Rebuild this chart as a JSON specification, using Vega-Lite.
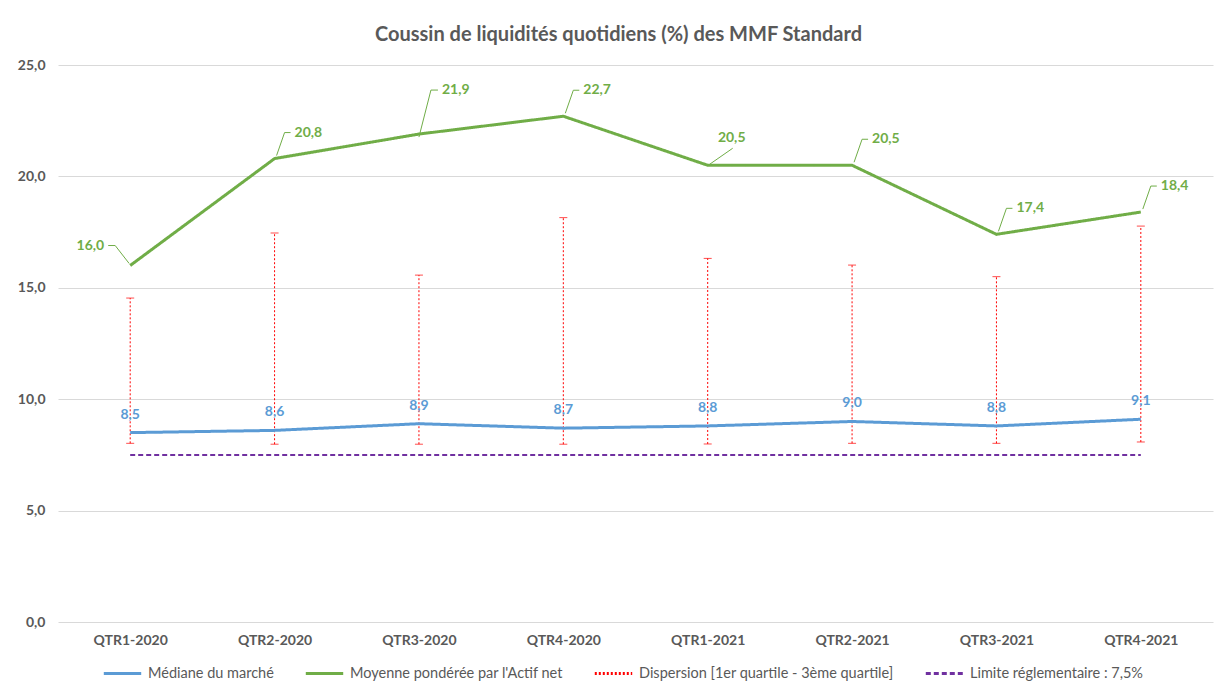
{
  "$schema": "https://vega.github.io/schema/vega-lite/v6.json",
  "width": 1155,
  "height": 557,
  "autosize": {"type": "none"},
  "padding": {"left": 58, "top": 65, "right": 6, "bottom": 66},
  "background": "white",
  "title": {
    "text": "Coussin de liquidités quotidiens (%) des MMF Standard",
    "font": "Lato", "fontSize": 20, "fontWeight": "bold", "color": "#595959",
    "anchor": "middle", "dx": -17, "offset": 13
  },
  "config": {
    "locale": {"number": {"decimal": ",", "thousands": " ", "grouping": [3], "currency": ["", " €"]}},
    "view": {"stroke": null},
    "font": "Lato",
    "axis": {"labelFont": "Lato", "labelFontSize": 14, "labelFontWeight": "bold", "labelColor": "#595959", "domain": false, "ticks": false, "title": null},
    "legend": {"labelFont": "Lato", "labelFontSize": 14.5, "labelColor": "#595959", "symbolType": "stroke", "symbolStrokeWidth": 3, "symbolSize": 1400, "labelLimit": 400, "orient": "none", "legendX": 44, "legendY": 588, "direction": "horizontal", "columnPadding": 25, "labelOffset": 5, "title": null}
  },
  "data": {"values": [
    {"trimestre": "QTR1-2020", "mediane": 8.5, "moyenne": 16.0, "q1": 8.02, "q3": 14.54, "limite": 7.5},
    {"trimestre": "QTR2-2020", "mediane": 8.6, "moyenne": 20.8, "q1": 7.98, "q3": 17.46, "limite": 7.5},
    {"trimestre": "QTR3-2020", "mediane": 8.9, "moyenne": 21.9, "q1": 7.98, "q3": 15.57, "limite": 7.5},
    {"trimestre": "QTR4-2020", "mediane": 8.7, "moyenne": 22.7, "q1": 7.98, "q3": 18.15, "limite": 7.5},
    {"trimestre": "QTR1-2021", "mediane": 8.8, "moyenne": 20.5, "q1": 7.99, "q3": 16.32, "limite": 7.5},
    {"trimestre": "QTR2-2021", "mediane": 9.0, "moyenne": 20.5, "q1": 8.02, "q3": 16.02, "limite": 7.5},
    {"trimestre": "QTR3-2021", "mediane": 8.8, "moyenne": 17.4, "q1": 8.02, "q3": 15.5, "limite": 7.5},
    {"trimestre": "QTR4-2021", "mediane": 9.1, "moyenne": 18.4, "q1": 8.08, "q3": 17.77, "limite": 7.5}
  ]},
  "encoding": {
    "x": {"field": "trimestre", "type": "nominal", "sort": null, "scale": {"type": "point", "padding": 0.5},
          "axis": {"labelAngle": 0, "labelPadding": 11, "grid": false}}
  },
  "layer": [
    {
      "mark": {"type": "rule", "strokeWidth": 1},
      "encoding": {
        "y": {"field": "q1", "type": "quantitative", "scale": {"domain": [0, 25], "nice": false},
              "axis": {"values": [0, 5, 10, 15, 20, 25], "format": ".1f", "grid": true, "gridColor": "#D9D9D9", "labelPadding": 13}},
        "y2": {"field": "q3"},
        "color": {"datum": "Dispersion [1er quartile - 3ème quartile]",
                  "scale": {"domain": ["Médiane du marché", "Moyenne pondérée par l'Actif net", "Dispersion [1er quartile - 3ème quartile]", "Limite réglementaire : 7,5%"],
                            "range": ["#5B9BD5", "#70AD47", "#FF0000", "#7030A0"]}},
        "strokeDash": {"datum": "Dispersion [1er quartile - 3ème quartile]",
                  "scale": {"domain": ["Médiane du marché", "Moyenne pondérée par l'Actif net", "Dispersion [1er quartile - 3ème quartile]", "Limite réglementaire : 7,5%"],
                            "range": [[1, 0], [1, 0], [2, 2], [5, 3]]}}
      }
    },
    {
      "mark": {"type": "tick", "color": "#FF0000", "size": 8, "thickness": 1, "orient": "horizontal"},
      "encoding": {"y": {"field": "q1", "type": "quantitative"}}
    },
    {
      "mark": {"type": "tick", "color": "#FF0000", "size": 8, "thickness": 1, "orient": "horizontal"},
      "encoding": {"y": {"field": "q3", "type": "quantitative"}}
    },
    {
      "mark": {"type": "line", "strokeWidth": 2},
      "encoding": {
        "y": {"field": "limite", "type": "quantitative"},
        "color": {"datum": "Limite réglementaire : 7,5%"},
        "strokeDash": {"datum": "Limite réglementaire : 7,5%"}
      }
    },
    {
      "mark": {"type": "line", "strokeWidth": 3},
      "encoding": {
        "y": {"field": "mediane", "type": "quantitative"},
        "color": {"datum": "Médiane du marché"},
        "strokeDash": {"datum": "Médiane du marché"}
      }
    },
    {
      "mark": {"type": "line", "strokeWidth": 3},
      "encoding": {
        "y": {"field": "moyenne", "type": "quantitative"},
        "color": {"datum": "Moyenne pondérée par l'Actif net"},
        "strokeDash": {"datum": "Moyenne pondérée par l'Actif net"}
      }
    },
    {
      "mark": {"type": "text", "dy": -18, "fontSize": 14, "fontWeight": "bold", "color": "#5B9BD5", "baseline": "middle"},
      "encoding": {
        "y": {"field": "mediane", "type": "quantitative"},
        "text": {"field": "mediane", "type": "quantitative", "format": ".1f"}
      }
    },
    {
      "transform": [{"filter": {"field": "trimestre", "oneOf": ["QTR2-2020", "QTR4-2020", "QTR2-2021", "QTR3-2021", "QTR4-2021"]}}],
      "layer": [
        {"mark": {"type": "rule", "color": "#70AD47", "strokeWidth": 1, "xOffset": 2, "yOffset": -3, "x2Offset": 10, "y2Offset": -26},
         "encoding": {"y": {"field": "moyenne", "type": "quantitative"}, "y2": {"field": "moyenne"}, "x2": {"field": "trimestre"}}},
        {"mark": {"type": "rule", "color": "#70AD47", "strokeWidth": 1, "xOffset": 10, "yOffset": -26, "x2Offset": 16, "y2Offset": -26},
         "encoding": {"y": {"field": "moyenne", "type": "quantitative"}, "y2": {"field": "moyenne"}, "x2": {"field": "trimestre"}}},
        {"mark": {"type": "text", "align": "left", "baseline": "middle", "dx": 20, "dy": -26, "fontSize": 14, "fontWeight": "bold", "color": "#70AD47"},
         "encoding": {"y": {"field": "moyenne", "type": "quantitative"}, "text": {"field": "moyenne", "type": "quantitative", "format": ".1f"}}}
      ]
    },
    {
      "transform": [{"filter": {"field": "trimestre", "equal": "QTR3-2020"}}],
      "layer": [
        {"mark": {"type": "rule", "color": "#70AD47", "strokeWidth": 1, "xOffset": 0, "yOffset": 3, "x2Offset": 12, "y2Offset": -44},
         "encoding": {"y": {"field": "moyenne", "type": "quantitative"}, "y2": {"field": "moyenne"}, "x2": {"field": "trimestre"}}},
        {"mark": {"type": "rule", "color": "#70AD47", "strokeWidth": 1, "xOffset": 12, "yOffset": -44, "x2Offset": 19, "y2Offset": -44},
         "encoding": {"y": {"field": "moyenne", "type": "quantitative"}, "y2": {"field": "moyenne"}, "x2": {"field": "trimestre"}}},
        {"mark": {"type": "text", "align": "left", "baseline": "middle", "dx": 23, "dy": -44, "fontSize": 14, "fontWeight": "bold", "color": "#70AD47"},
         "encoding": {"y": {"field": "moyenne", "type": "quantitative"}, "text": {"field": "moyenne", "type": "quantitative", "format": ".1f"}}}
      ]
    },
    {
      "transform": [{"filter": {"field": "trimestre", "equal": "QTR1-2021"}}],
      "layer": [
        {"mark": {"type": "rule", "color": "#70AD47", "strokeWidth": 1, "xOffset": 2, "yOffset": -1, "x2Offset": 25, "y2Offset": -17},
         "encoding": {"y": {"field": "moyenne", "type": "quantitative"}, "y2": {"field": "moyenne"}, "x2": {"field": "trimestre"}}},
        {"mark": {"type": "text", "align": "center", "baseline": "middle", "dx": 24, "dy": -27, "fontSize": 14, "fontWeight": "bold", "color": "#70AD47"},
         "encoding": {"y": {"field": "moyenne", "type": "quantitative"}, "text": {"field": "moyenne", "type": "quantitative", "format": ".1f"}}}
      ]
    },
    {
      "transform": [{"filter": {"field": "trimestre", "equal": "QTR1-2020"}}],
      "layer": [
        {"mark": {"type": "rule", "color": "#70AD47", "strokeWidth": 1, "xOffset": -1, "yOffset": -2, "x2Offset": -15, "y2Offset": -20},
         "encoding": {"y": {"field": "moyenne", "type": "quantitative"}, "y2": {"field": "moyenne"}, "x2": {"field": "trimestre"}}},
        {"mark": {"type": "rule", "color": "#70AD47", "strokeWidth": 1, "xOffset": -15, "yOffset": -20, "x2Offset": -22, "y2Offset": -20},
         "encoding": {"y": {"field": "moyenne", "type": "quantitative"}, "y2": {"field": "moyenne"}, "x2": {"field": "trimestre"}}},
        {"mark": {"type": "text", "align": "right", "baseline": "middle", "dx": -26, "dy": -20, "fontSize": 14, "fontWeight": "bold", "color": "#70AD47"},
         "encoding": {"y": {"field": "moyenne", "type": "quantitative"}, "text": {"field": "moyenne", "type": "quantitative", "format": ".1f"}}}
      ]
    }
  ]
}
